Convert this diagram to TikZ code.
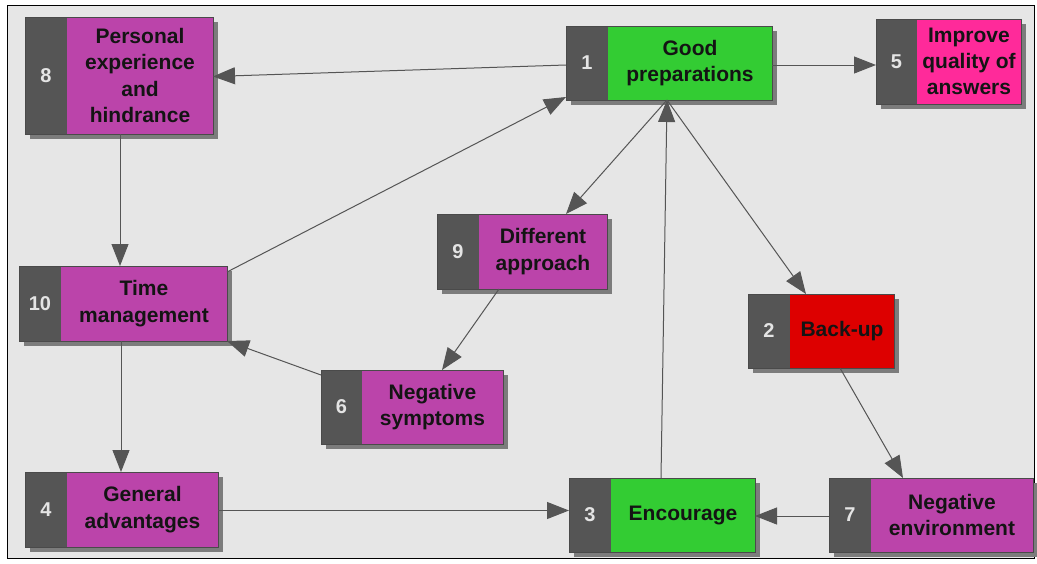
\documentclass[tikz,border=0pt]{standalone}
\usepackage{fontspec}
\setmainfont{Liberation Sans}
\usetikzlibrary{arrows.meta,shadows,calc}

\definecolor{bgpanel}{HTML}{E6E6E6}
\definecolor{stripgray}{HTML}{555555}
\definecolor{shadowgray}{HTML}{7C7C7C}
\definecolor{edgegray}{HTML}{4A4A4A}
\definecolor{linkgray}{HTML}{555555}
\definecolor{violet}{HTML}{BB44AA}
\definecolor{leafgreen}{HTML}{33CC33}
\definecolor{hotpink}{HTML}{FF2A9A}
\definecolor{alarmred}{HTML}{DD0000}
\definecolor{numwhite}{HTML}{E4E4E4}
\definecolor{inkdark}{HTML}{141414}

\tikzset{
  stepbox/.style={draw=edgegray, line width=0.9pt, inner sep=0pt, outer sep=0pt,
    drop shadow={shadow xshift=5pt, shadow yshift=-5pt, fill=shadowgray, opacity=1}},
  boxtext/.style={align=center, inner sep=0pt, text=inkdark,
    font=\fontsize{21}{26.3}\selectfont\bfseries},
  boxnum/.style={inner sep=0pt, text=numwhite,
    font=\fontsize{20}{22}\selectfont\bfseries},
  link/.style={draw=linkgray, line width=1pt,
    -{Triangle[length=22pt,width=17pt]}},
}

% \stepnode{name}{left}{top}{right}{bottom}{strip width}{colour}{number}{text}
\newcommand{\stepnode}[9]{%
  \node[stepbox, fill=#7, minimum width={(#4-#2)*1pt}, minimum height={(#5-#3)*1pt},
    path picture={\fill[stripgray] (path picture bounding box.north west)
      rectangle ([xshift=#6pt]path picture bounding box.south west);}]
    (#1) at ({(#2+#4)/2},{(#3+#5)/2}) {};
  \node[boxnum] (#1num) at ({#2+#6/2},{(#3+#5)/2}) {#8};
  \node[boxtext] (#1txt) at ({(#2+#6+#4)/2},{(#3+#5)/2}) {#9};
}

\begin{document}
\begin{tikzpicture}[x=1pt, y=-1pt]
  \useasboundingbox (0,0) rectangle (1037,563);
  \filldraw[fill=bgpanel, draw=black, line width=1pt] (7,5) rectangle (1034,558);

  \stepnode{n1}{566}{26}{772}{100}{42}{leafgreen}{1}{Good\\preparations}
  \stepnode{n8}{25}{17}{213}{134}{42}{violet}{8}{Personal\\experience\\and\\hindrance}
  \stepnode{n5}{876}{19}{1021}{104}{41}{hotpink}{5}{Improve\\quality of\\answers}
  \stepnode{n2}{748}{294}{894}{368}{42}{alarmred}{2}{Back-up}
  \stepnode{n3}{569}{478}{755}{552}{42}{leafgreen}{3}{Encourage}
  \stepnode{n7}{829}{478}{1033}{552}{42}{violet}{7}{Negative\\environment}
  \stepnode{n10}{19}{266}{227}{341}{42}{violet}{10}{Time\\management}
  \stepnode{n6}{321}{370}{503}{444}{41}{violet}{6}{Negative\\symptoms}
  \stepnode{n9}{437}{214}{607}{289}{42}{violet}{9}{Different\\approach}
  \stepnode{n4}{25}{472}{218}{547}{42}{violet}{4}{General\\advantages}

  % connectors
  \draw[link] ([yshift=-2pt]n1.west) -- ([yshift=-1pt]n8.east);
  \draw[link] ([yshift=-2pt]n1.east) -- ([yshift=-2pt]n1.east -| n5.west);
  \draw[link] ([xshift=1pt]n8.south) -- ([xshift=1pt]n8.south |- n10.north);
  \draw[link] ([yshift=-6pt]n10.north east) -- ([yshift=3pt]n1.south west);
  \draw[link] ([xshift=-2pt]n1.south) -- ([xshift=-41pt]n9.north east);
  \draw[link] ([xshift=-2pt]n1.south) -- ([xshift=58pt]n2.north west);
  \draw[link] ([xshift=-1pt]n3.north) -- ([xshift=-2pt]n1.south);
  \draw[link] ([xshift=-23pt]n9.south) -- ([xshift=30pt]n6.north);
  \draw[link] ([yshift=-5pt]n6.north west) -- (n10.south east);
  \draw[link] ([xshift=-2pt]n10.south) -- ([xshift=-2pt]n10.south |- n4.north);
  \draw[link] ([yshift=-1pt]n4.east) -- ([yshift=-1pt]n4.east -| n3.west);
  \draw[link] ([xshift=19pt]n2.south) -- ([xshift=-28pt]n7.north);
  \draw[link] ([yshift=-1pt]n7.west) -- ([yshift=-1pt]n7.west -| n3.east);
\end{tikzpicture}
\end{document}
